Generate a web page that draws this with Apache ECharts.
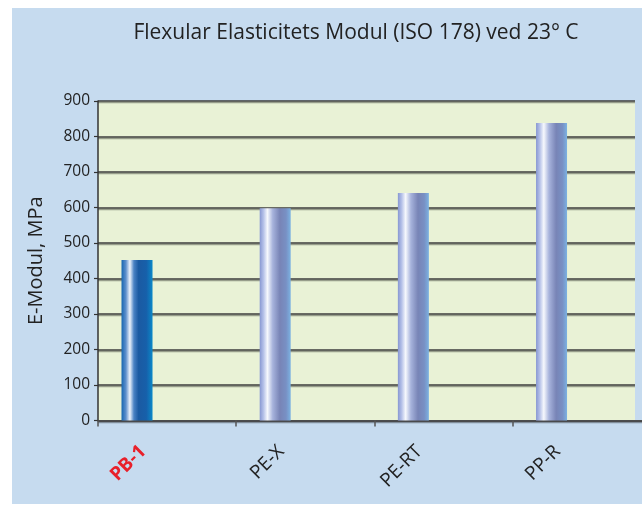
<!DOCTYPE html>
<html>
<head>
<meta charset="utf-8">
<script src="https://cdn.jsdelivr.net/npm/echarts@6/dist/echarts.min.js"></script>
<style>
  html, body { margin: 0; padding: 0; background: #ffffff; overflow: hidden; width: 642px; height: 506px; }
  #bg { position: absolute; left: 12px; top: 8px; width: 630px; height: 496px; background: #c6dbef; }
  #chart { position: absolute; left: 0; top: 0; width: 680px; height: 506px; }
  #edge { position: absolute; left: 635px; top: 95px; width: 7px; height: 325px; background: #c6dbef; }
</style>
</head>
<body>
<div id="bg"></div>
<div id="chart"></div>
<div id="edge"></div>
<script>
const titleText = 'Flexular Elasticitets Modul (ISO 178) ved 23° C';
const yAxisName = 'E-Modul, MPa';
const categories = ['PB-1', 'PE-X', 'PE-RT', 'PP-R'];
const modulusValues = [452, 598, 641, 838];
const yTicks = { min: 0, max: 900, interval: 100 };

const font = 'Open Sans';

const pbGradient = new echarts.graphic.LinearGradient(0, 0, 1, 0, [
  { offset: 0, color: '#1766b0' },
  { offset: 0.14, color: '#5d8fcc' },
  { offset: 0.27, color: '#eef3fb' },
  { offset: 0.4, color: '#4a82c4' },
  { offset: 0.55, color: '#1b5aa2' },
  { offset: 0.8, color: '#1760aa' },
  { offset: 1, color: '#0a88c8' }
]);
const otherGradient = new echarts.graphic.LinearGradient(0, 0, 1, 0, [
  { offset: 0, color: '#8797d2' },
  { offset: 0.12, color: '#b4c0e8' },
  { offset: 0.25, color: '#f6f8fd' },
  { offset: 0.42, color: '#a7b3dc' },
  { offset: 0.65, color: '#7884b6' },
  { offset: 0.85, color: '#7890c4' },
  { offset: 1, color: '#7cb2e2' }
]);

const barData = modulusValues.map((v, i) => ({
  value: v,
  itemStyle: { color: i === 0 ? pbGradient : otherGradient }
}));

const chart = echarts.init(document.getElementById('chart'));
chart.setOption({
  backgroundColor: 'transparent',
  animation: false,
  title: {
    text: titleText,
    left: 351,
    top: 18,
    textAlign: 'center',
    textStyle: { fontFamily: font, fontSize: 21, fontWeight: 'normal', color: '#222' }
  },
  grid: {
    left: 98,
    top: 101,
    width: 552.7,
    height: 319.5,
    show: true,
    backgroundColor: '#e9f2d6',
    borderWidth: 0
  },
  xAxis: {
    type: 'category',
    data: categories,
    axisLine: { lineStyle: { color: '#444', width: 1.5 } },
    axisTick: { show: true, length: 6, lineStyle: { color: '#555', width: 1.5 } },
    axisLabel: {
      rotate: 45,
      margin: 4,
      padding: [0, 34, 0, 0],
      fontFamily: font,
      fontSize: 19,
      color: '#222',
      formatter: function (v) { return v === 'PB-1' ? '{red|' + v + '}' : v; },
      rich: {
        red: { color: '#e8202a', fontWeight: 'bold', fontSize: 19, fontFamily: font }
      }
    }
  },
  yAxis: {
    type: 'value',
    min: yTicks.min,
    max: yTicks.max,
    interval: yTicks.interval,
    name: yAxisName,
    nameLocation: 'middle',
    nameRotate: 90,
    nameGap: 52,
    nameTextStyle: { fontFamily: font, fontSize: 20, color: '#222' },
    axisLine: { show: true, lineStyle: { color: '#333', width: 1.5 } },
    axisTick: { show: true, length: 4, lineStyle: { color: '#333', width: 1.2 } },
    axisLabel: { fontFamily: font, fontSize: 15.5, color: '#222', margin: 8 },
    splitLine: {
      lineStyle: { color: '#3c3c3c', width: 1.5, shadowColor: 'rgba(0,0,0,0.35)', shadowOffsetY: 1.5, shadowBlur: 0 }
    }
  },
  series: [
    {
      type: 'bar',
      data: barData,
      barWidth: 31,
      barGap: '94%'
    },
    {
      type: 'bar',
      data: categories.map(() => null),
      barWidth: 31
    }
  ]
});
</script>
</body>
</html>
